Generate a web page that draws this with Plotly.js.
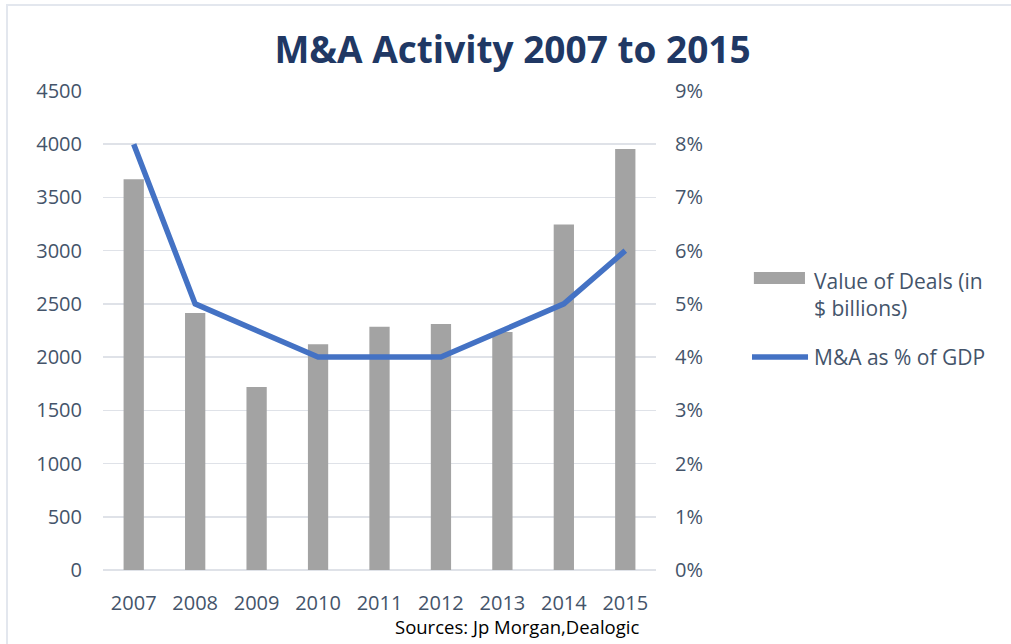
<!DOCTYPE html>
<html>
<head>
<meta charset="utf-8">
<script src="https://cdn.plot.ly/plotly-3.0.1.min.js"></script>
<style>
  html, body { margin: 0; padding: 0; background: #fff; }
  #wrap { position: relative; width: 1011px; height: 644px; }
  #chart { width: 1011px; height: 644px; }
  #frame { position: absolute; left: 6px; top: 4px; right: 0; bottom: 0;
           border-top: 2px solid #e3e7ee; border-left: 2px solid #e3e7ee; pointer-events: none; }
</style>
</head>
<body>
<div id="wrap">
  <div id="chart"></div>
  <div id="frame"></div>
</div>
<script>
const years = ['2007', '2008', '2009', '2010', '2011', '2012', '2013', '2014', '2015'];
const dealValues = [3670, 2415, 1720, 2120, 2285, 2310, 2235, 3245, 3955];
const gdpShare = [0.08, 0.05, 0.045, 0.04, 0.04, 0.04, 0.045, 0.05, 0.06];
const barName = 'Value of Deals (in<br>$ billions)';
const lineName = 'M&A as % of GDP';
const titleText = 'M&A Activity 2007 to 2015';
const sourceText = 'Sources: Jp Morgan,Dealogic';

const FONT = 'Open Sans, Noto Sans, sans-serif';
const TICK = '#44546a';
const BAR = '#a3a3a3';
const LINE = '#4472c4';

const traces = [
  {
    type: 'bar', x: years, y: dealValues, name: barName,
    marker: { color: BAR }, showlegend: false
  },
  {
    type: 'scatter', mode: 'lines', x: years, y: gdpShare, name: lineName, yaxis: 'y2',
    line: { color: LINE, width: 5.5 }, showlegend: false
  }
];

const layout = {
  width: 1011, height: 644,
  margin: { l: 103, r: 355, t: 91, b: 74 },
  paper_bgcolor: '#ffffff', plot_bgcolor: '#ffffff',
  font: { family: FONT, color: TICK, size: 20 },
  title: {
    text: '<b>' + titleText + '</b>',
    font: { family: FONT, size: 37, color: '#203864' },
    x: 0.507, xref: 'container', xanchor: 'center',
    y: 0.922, yref: 'container', yanchor: 'middle'
  },
  bargap: 0.67,
  xaxis: {
    type: 'category', showgrid: false, showline: false, zeroline: false,
    ticks: '', ticklabelstandoff: 19,
    tickfont: { family: FONT, size: 20, color: TICK }
  },
  yaxis: {
    range: [0, 4500], dtick: 500, tick0: 0,
    showgrid: true, gridcolor: '#dfe2e8', gridwidth: 1.5,
    zeroline: true, zerolinecolor: '#dfe2e8', zerolinewidth: 1.5,
    showline: false, ticks: '', ticklabelstandoff: 20,
    tickfont: { family: FONT, size: 20, color: TICK }
  },
  yaxis2: {
    overlaying: 'y', side: 'right',
    range: [0, 0.09], dtick: 0.01, tick0: 0, tickformat: '.0%',
    showgrid: false, zeroline: false, showline: false, ticks: '', ticklabelstandoff: 18,
    tickfont: { family: FONT, size: 20, color: TICK }
  },
  showlegend: false,
  shapes: [
    {
      type: 'rect', xref: 'paper', yref: 'paper',
      x0: 1.177, x1: 1.2694, y0: 0.597, y1: 0.622,
      fillcolor: BAR, line: { width: 0 }
    },
    {
      type: 'line', xref: 'paper', yref: 'paper',
      x0: 1.1736, x1: 1.2749, y0: 0.4447, y1: 0.4447,
      line: { color: LINE, width: 5.5 }
    }
  ],
  annotations: [
    {
      text: barName, showarrow: false, align: 'left',
      xref: 'paper', yref: 'paper',
      x: 1.2821, y: 0.576, xanchor: 'left', yanchor: 'middle',
      font: { family: FONT, size: 21, color: TICK }
    },
    {
      text: lineName, showarrow: false, align: 'left',
      xref: 'paper', yref: 'paper',
      x: 1.2821, y: 0.4447, xanchor: 'left', yanchor: 'middle',
      font: { family: FONT, size: 21, color: TICK }
    },
    {
      text: sourceText, showarrow: false,
      xref: 'paper', yref: 'paper',
      x: 0.749, y: -0.117, xanchor: 'center', yanchor: 'middle',
      font: { family: FONT, size: 18.5, color: '#000000' }
    }
  ]
};

Plotly.newPlot('chart', traces, layout, { displayModeBar: false, staticPlot: true });
</script>
</body>
</html>
